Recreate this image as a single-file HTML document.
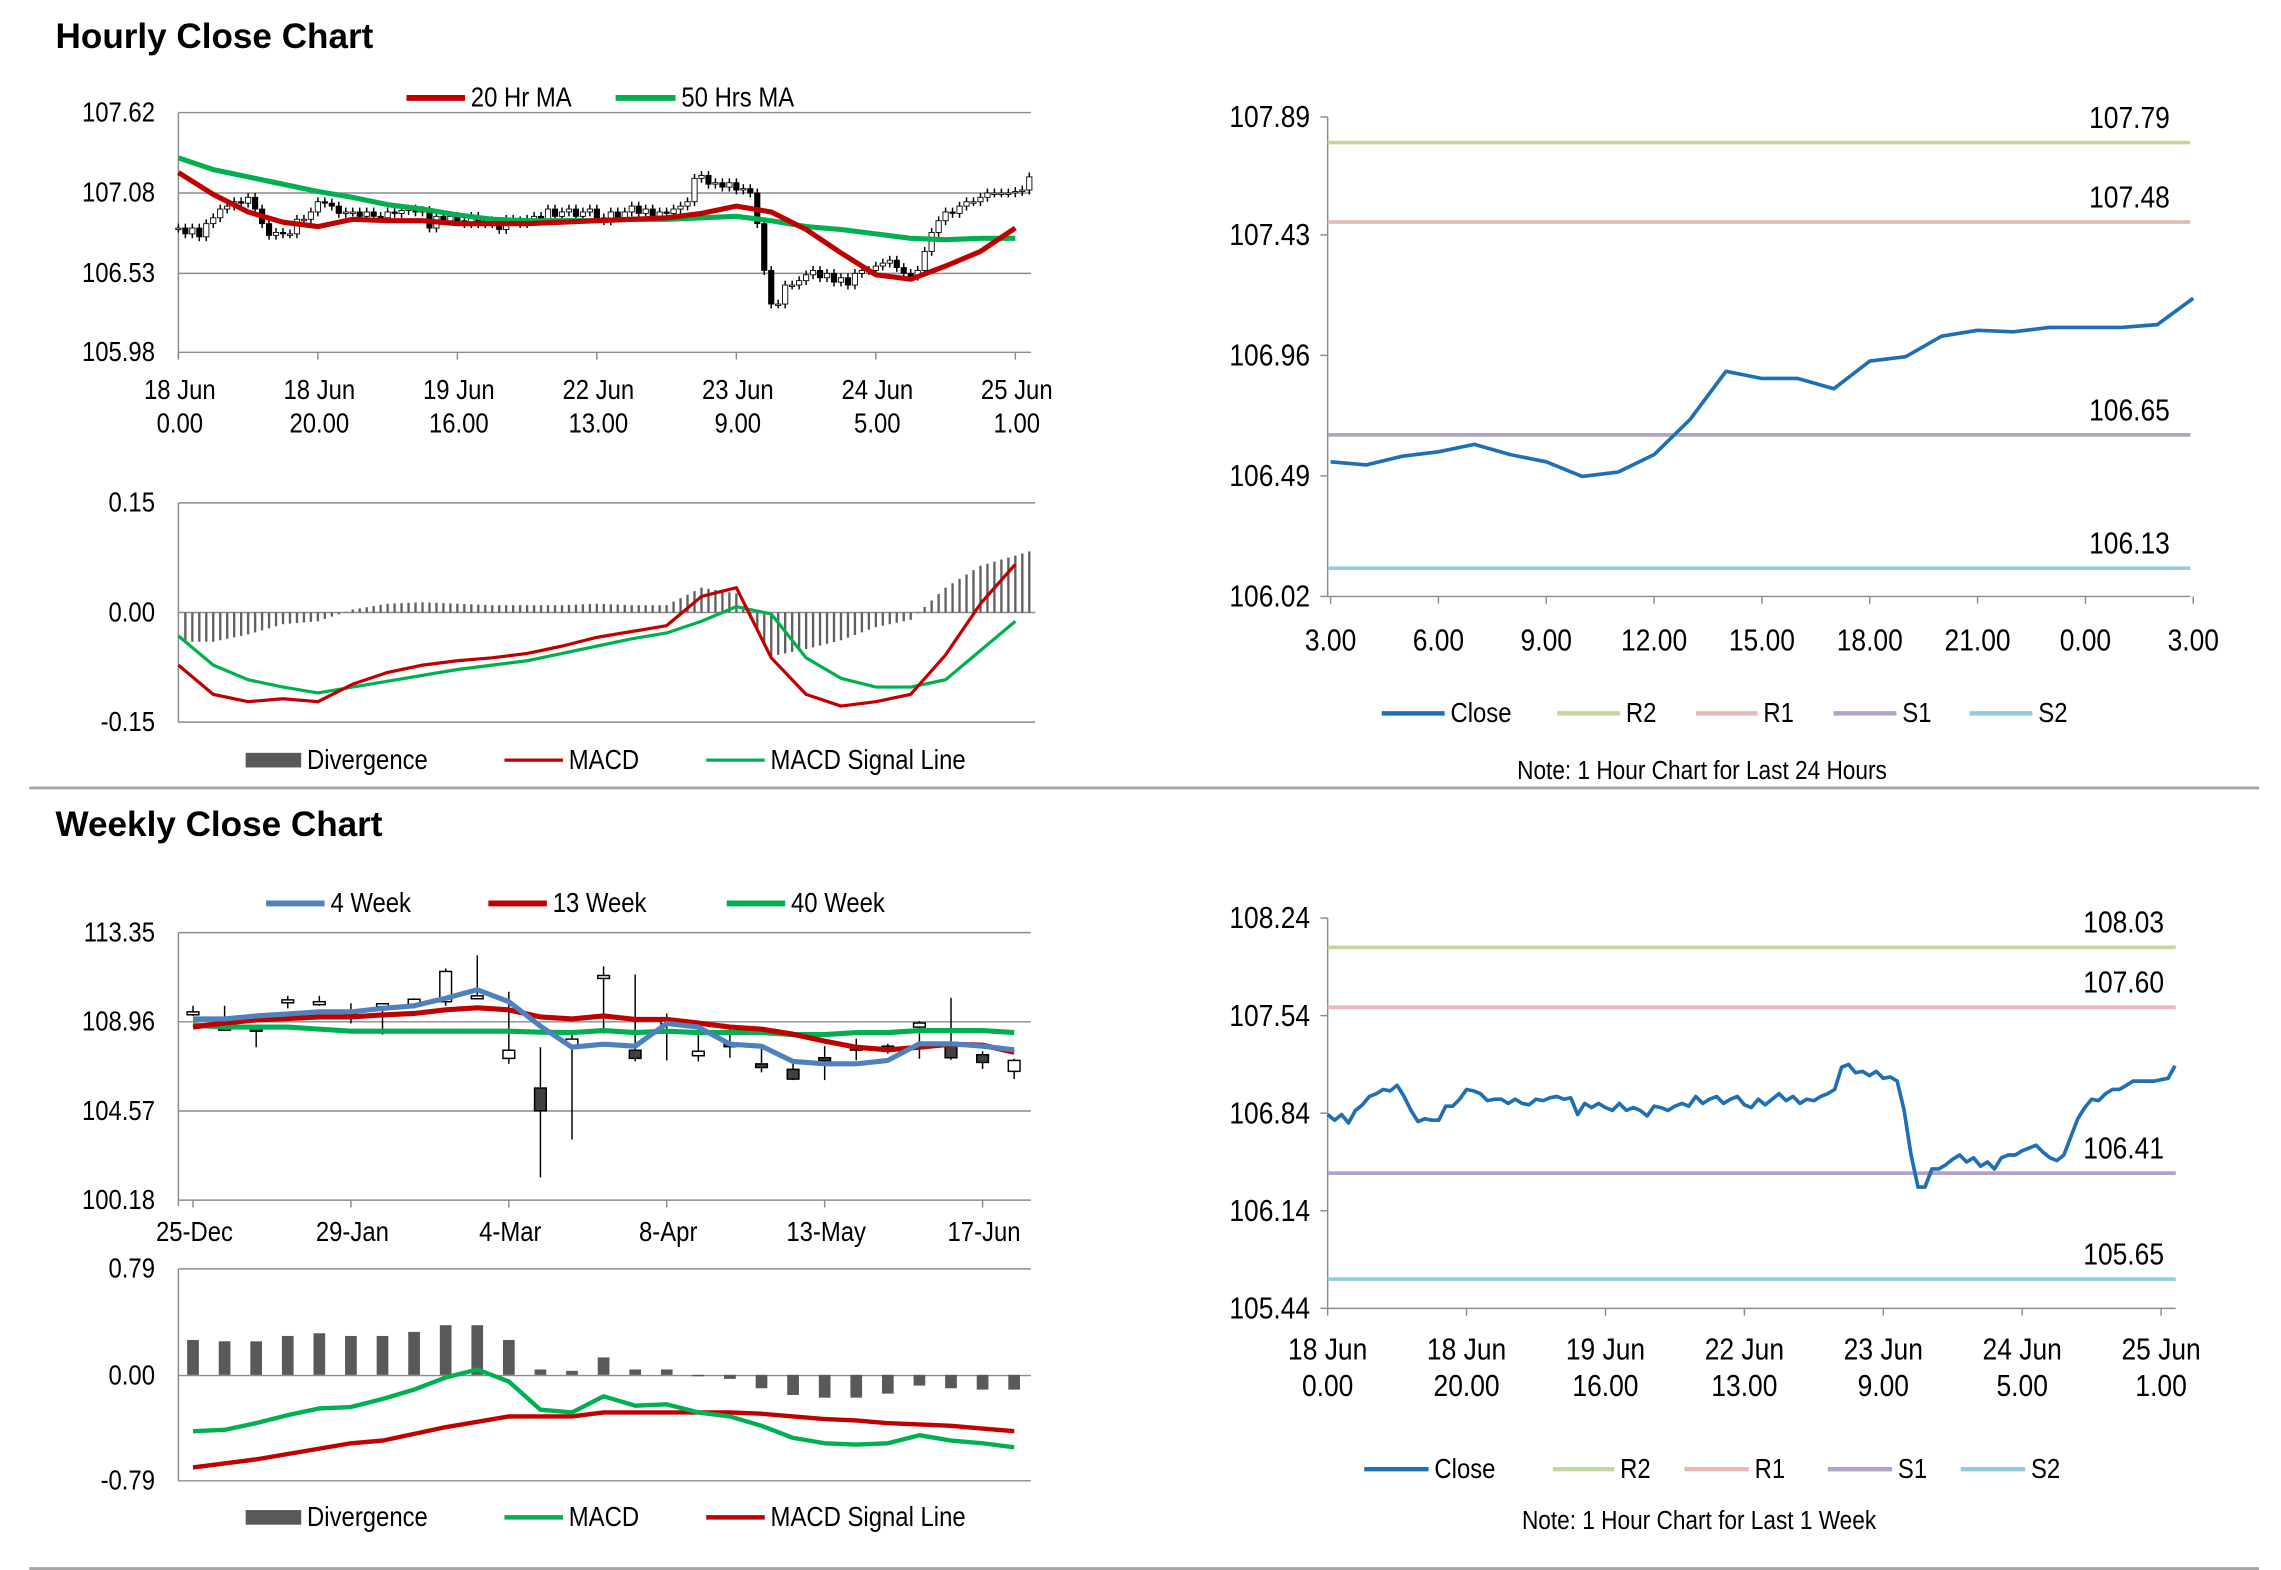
<!DOCTYPE html>
<html><head><meta charset="utf-8"><style>
html,body{margin:0;padding:0;background:#fff;}
svg{display:block;}
text{font-family:"Liberation Sans Narrow","Liberation Sans",sans-serif;fill:#000;}
.title{font-family:"Liberation Sans",sans-serif;font-weight:bold;font-size:24px;}
</style></head><body>
<svg id="root" width="2281" height="1570" viewBox="0 0 1560 1074" preserveAspectRatio="none" xmlns="http://www.w3.org/2000/svg"></svg>
<script>
// ---------- DATA ----------
const hourlyClose = [106.83,106.79,106.83,106.77,106.86,106.90,106.96,106.98,107.01,107.00,107.04,106.96,106.86,106.78,106.80,106.79,106.79,106.89,106.89,106.94,
107.01,107.00,106.98,106.93,106.94,106.94,106.91,106.94,106.91,106.90,106.94,106.93,106.95,106.96,106.94,106.95,106.83,106.91,106.88,106.91,
106.88,106.86,106.91,106.86,106.88,106.86,106.82,106.89,106.88,106.86,106.89,106.91,106.89,106.96,106.91,106.94,106.96,106.91,106.94,106.96,
106.90,106.88,106.94,106.90,106.94,106.98,106.93,106.96,106.91,106.94,106.93,106.96,106.98,107.01,107.17,107.19,107.13,107.14,107.11,107.14,
107.09,107.10,107.07,106.86,106.54,106.31,106.31,106.44,106.44,106.47,106.51,106.54,106.49,106.52,106.46,106.49,106.44,106.52,106.54,106.54,
106.57,106.59,106.61,106.56,106.52,106.50,106.54,106.67,106.80,106.88,106.94,106.93,106.98,107.01,107.01,107.04,107.07,107.07,107.07,107.07,
107.08,107.09,107.18];
const hourlyXLabels1 = ["18 Jun","18 Jun","19 Jun","22 Jun","23 Jun","24 Jun","25 Jun"];
const hourlyXLabels2 = ["0.00","20.00","16.00","13.00","9.00","5.00","1.00"];
const ma20 = [107.21,107.06,106.94,106.87,106.84,106.89,106.88,106.88,106.86,106.86,106.86,106.87,106.88,106.89,106.90,106.93,106.98,106.94,106.82,106.66,106.51,106.48,106.57,106.67,106.83];
const ma50 = [107.31,107.23,107.18,107.13,107.08,107.04,106.99,106.96,106.92,106.89,106.88,106.88,106.88,106.89,106.89,106.90,106.91,106.88,106.84,106.82,106.79,106.76,106.75,106.76,106.76];
const hMacd = [-0.072,-0.112,-0.122,-0.118,-0.122,-0.098,-0.082,-0.072,-0.066,-0.062,-0.056,-0.046,-0.034,-0.026,-0.018,0.022,0.034,-0.062,-0.112,-0.128,-0.122,-0.112,-0.058,0.012,0.066];
const hSignal = [-0.032,-0.072,-0.092,-0.102,-0.110,-0.102,-0.094,-0.086,-0.078,-0.072,-0.066,-0.056,-0.046,-0.036,-0.028,-0.012,0.008,-0.002,-0.062,-0.090,-0.102,-0.102,-0.092,-0.052,-0.012];
const dayClose = [106.545,106.533,106.567,106.584,106.613,106.573,106.545,106.488,106.505,106.573,106.710,106.898,106.870,106.870,106.830,106.938,106.955,107.035,107.058,107.052,107.069,107.069,107.069,107.080,107.183];
const dayXLabels = ["3.00","6.00","9.00","12.00","15.00","18.00","21.00","0.00","3.00"];
const dayLevels = [107.79,107.48,106.65,106.13];
const weekLevels = [108.03,107.60,106.41,105.65];
const wOpen  = [109.35,108.75,108.68,109.95,109.82,109.37,109.82,109.82,109.95,110.14,107.16,105.70,107.81,111.14,107.56,108.88,107.29,107.88,106.89,106.62,107.19,107.71,107.76,108.70,107.88,107.34,106.52];
const wClose = [109.45,108.55,108.50,110.04,109.95,109.50,109.85,110.07,111.44,110.24,107.56,104.58,108.11,111.24,107.16,109.00,107.51,107.76,106.71,106.14,107.09,107.58,107.63,108.90,107.19,106.96,107.06];
const wHigh  = [109.75,109.75,108.80,110.24,110.24,109.87,109.85,110.12,111.59,112.23,110.44,107.71,108.38,111.69,111.29,109.37,109.00,108.75,107.63,106.89,107.76,108.13,107.88,109.00,110.14,107.51,107.14];
const wLow   = [109.25,108.50,107.71,109.62,109.75,108.88,108.33,109.62,109.75,110.12,106.89,101.30,103.16,108.38,107.01,107.06,107.01,107.19,106.47,106.09,106.09,107.06,107.39,107.14,107.09,106.64,106.14];
const ma4w  = [109.10,109.10,109.25,109.35,109.45,109.45,109.62,109.75,110.12,110.54,109.95,108.75,107.71,107.86,107.76,108.88,108.70,107.86,107.76,107.01,106.89,106.89,107.06,107.88,107.88,107.76,107.58];
const ma13w = [108.70,108.90,109.05,109.12,109.20,109.20,109.30,109.37,109.55,109.65,109.55,109.20,109.10,109.25,109.08,109.08,108.90,108.70,108.60,108.35,108.01,107.71,107.58,107.71,107.86,107.81,107.46];
const ma40w = [108.80,108.70,108.70,108.70,108.60,108.50,108.50,108.50,108.50,108.50,108.50,108.45,108.43,108.53,108.43,108.50,108.43,108.43,108.43,108.33,108.33,108.43,108.43,108.53,108.53,108.53,108.43];
const wDiv  = [0.26,0.25,0.25,0.29,0.31,0.29,0.29,0.32,0.37,0.37,0.26,0.04,0.03,0.13,0.04,0.04,-0.01,-0.03,-0.10,-0.15,-0.17,-0.17,-0.14,-0.08,-0.10,-0.11,-0.11];
const wMacd = [-0.42,-0.41,-0.36,-0.30,-0.25,-0.24,-0.18,-0.11,-0.02,0.04,-0.05,-0.26,-0.28,-0.16,-0.23,-0.22,-0.28,-0.31,-0.38,-0.47,-0.51,-0.52,-0.51,-0.45,-0.49,-0.51,-0.54];
const wSignal=[-0.69,-0.66,-0.63,-0.59,-0.55,-0.51,-0.49,-0.44,-0.39,-0.35,-0.31,-0.31,-0.31,-0.28,-0.28,-0.28,-0.28,-0.28,-0.29,-0.31,-0.33,-0.34,-0.36,-0.37,-0.38,-0.40,-0.42];
const weekXLabels = ["25-Dec","29-Jan","4-Mar","8-Apr","13-May","17-Jun"];

// ---------- HELPERS ----------
const NS="http://www.w3.org/2000/svg";
const root=document.getElementById('root');
const SX=0.86;
function mk(tag,attrs,name,parent){
  const el=document.createElementNS(NS,tag);
  for(const k in attrs) el.setAttribute(k,attrs[k]);
  
  
  (parent||root).appendChild(el);
  return el;
}
function txt(x,y,s,name,opt){
  opt=opt||{};
  let el;
  if(opt.cls){
    el=mk('text',{x:x,y:y,'font-size':opt.size||18,'text-anchor':opt.anchor||'start','class':opt.cls},name);
  } else {
    el=mk('text',{x:(x/SX).toFixed(2),y:y,'font-size':(opt.size||18)+1,'text-anchor':opt.anchor||'start',transform:'scale('+SX+',1)'},name);
  }
  el.textContent=s;return el;
}
function ln(x1,y1,x2,y2,stroke,w,name){return mk('line',{x1:x1,y1:y1,x2:x2,y2:y2,stroke:stroke,'stroke-width':w},name);}
function poly(pts,stroke,w,name){return mk('polyline',{points:pts.map(p=>p[0].toFixed(2)+','+p[1].toFixed(2)).join(' '),fill:'none',stroke:stroke,'stroke-width':w,'stroke-linejoin':'round'},name);}
function scale(d0,d1,r0,r1){return v=>r0+(v-d0)/(d1-d0)*(r1-r0);}
const RED='#c00000',GREEN='#00b050',BLUE='#4f81bd',GRID='#8c8c8c',DBLUE='#1f6fb5';
const CR2='#c3d69b',CR1='#e6b9b8',CS1='#b3a2c7',CS2='#93cddd';

ln(20,539,1545,539,'#a6a6a6',2,'section-separator');
ln(20,1073,1545,1073,'#a6a6a6',2,'bottom-separator');
txt(38,33,'Hourly Close Chart','hourly-title',{cls:'title',size:24});
txt(38,572,'Weekly Close Chart','weekly-title',{cls:'title',size:24});

function grid(l,r,ys,labels,lx,name){
  ys.forEach((y,i)=>{ln(l,y,r,y,GRID,1,name+'-gridline');txt(lx,y+6,labels[i],name+'-y-label',{anchor:'end'});});
}
function legendLine(x1,x2,y,color,label,name,w){
  ln(x1,y,x2,y,color,w||4,name+'-swatch');
  txt(x2+4,y+6,label,name,{size:18});
}
function legendBox(x1,x2,y,label,name){
  mk('rect',{x:x1,y:y-5,width:x2-x1,height:10,fill:'#595959'},name+'-swatch');
  txt(x2+4,y+6,label,name,{size:18});
}

// ---------- PANEL 1 ----------
(function(){
  const l=122,r=705,t=77,b=241;
  const y=scale(105.98,107.62,b,t), x=i=>122+i*4.77;
  grid(l,r,[77,132,187,241],['107.62','107.08','106.53','105.98'],106,'hourly-price');
  ln(l,t,l,b+4,GRID,1,'hourly-price-y-axis');
  for(let k=0;k<7;k++){
    const xx=x(k*20);
    ln(xx,b,xx,b+5,GRID,1,'hourly-price-x-tick');
    txt(xx+1,273,hourlyXLabels1[k],'hourly-price-x-label',{anchor:'middle'});
    txt(xx+1,296,hourlyXLabels2[k],'hourly-price-x-label',{anchor:'middle'});
  }
  for(let i=0;i<hourlyClose.length;i++){
    const o=i>0?hourlyClose[i-1]:hourlyClose[0], c=hourlyClose[i];
    const hi=Math.max(o,c)+0.03, lo=Math.min(o,c)-0.03;
    ln(x(i),y(hi),x(i),y(lo),'#000',1,'hourly-candle-wick');
    const top=y(Math.max(o,c)), h=Math.max(1,Math.abs(y(o)-y(c)));
    mk('rect',{x:x(i)-1.8,y:top,width:3.6,height:h,fill:c>=o?'#fff':'#000',stroke:'#000','stroke-width':0.6},'hourly-candle');
  }
  poly(ma50.map((v,k)=>[x(k*5),y(v)]),GREEN,3.5,'ma50-line');
  poly(ma20.map((v,k)=>[x(k*5),y(v)]),RED,3.5,'ma20-line');
  legendLine(278,318,67,RED,'20 Hr MA','legend-20hr-ma');
  legendLine(421,462,67,GREEN,'50 Hrs MA','legend-50hr-ma');
})();

// ---------- PANEL 2 ----------
(function(){
  const l=122,r=708,t=344,b=494;
  const y=scale(-0.15,0.15,b,t), x=i=>122+i*4.77;
  grid(l,r,[344,419,494],['0.15','0.00','-0.15'],106,'hourly-macd');
  ln(l,t,l,b,GRID,1,'hourly-macd-y-axis');
  const interp=(arr,i)=>{const k=Math.min(Math.floor(i/5),arr.length-2);const f=(i-k*5)/5;return arr[k]+(arr[k+1]-arr[k])*Math.min(f,1.6);};
  for(let i=1;i<hourlyClose.length;i++){
    const d=interp(hMacd,i)-interp(hSignal,i);
    ln(x(i),y(0),x(i),y(d),'#606060',1.6,'hourly-divergence-bar');
  }
  poly(hSignal.map((v,k)=>[x(k*5),y(v)]),GREEN,2.2,'hourly-signal-line');
  poly(hMacd.map((v,k)=>[x(k*5),y(v)]),RED,2.2,'hourly-macd-line');
  legendBox(168,206,520,'Divergence','legend-hourly-divergence');
  legendLine(345,385,520,RED,'MACD','legend-hourly-macd',2.2);
  legendLine(483,523,520,GREEN,'MACD Signal Line','legend-hourly-signal',2.2);
})();

function levelChart(cfg){
  const {l,r,t,b,min,max,ticks,levels,data,x,name,labelX}=cfg;
  const y=scale(min,max,b,t);
  ln(l,t,l,b,GRID,1,name+'-y-axis');
  ln(l,b,r,b,GRID,1,name+'-x-axis');
  ticks.forEach(v=>{ln(l-5,y(v),l,y(v),GRID,1,name+'-y-tick');txt(l-12,y(v)+7,v.toFixed(2),name+'-y-label',{anchor:'end',size:20});});
  const cols=[CR2,CR1,CS1,CS2];
  levels.forEach((v,i)=>{ln(l,y(v),r,y(v),cols[i],2.5,name+'-level-'+['r2','r1','s1','s2'][i]);txt(labelX,y(v)-10,v.toFixed(2),name+'-level-label',{anchor:'end',size:20});});
  poly(data.map((v,i)=>[x(i),y(v)]),DBLUE,2.5,name+'-close-line');
  return y;
}
// ---------- PANEL 3 ----------
(function(){
  const x=i=>910+i*(590/24);
  levelChart({l:908,r:1498,t:80,b:408,min:106.02,max:107.89,ticks:[107.89,107.43,106.96,106.49,106.02],levels:dayLevels,data:dayClose,x:x,name:'day-chart',labelX:1484});
  dayXLabels.forEach((s,k)=>{const xx=910+k*73.75;ln(xx,408,xx,413,GRID,1,'day-chart-x-tick');txt(xx,445,s,'day-chart-x-label',{anchor:'middle',size:20});});
  const L=[[945,988,DBLUE,'Close'],[1065,1108,CR2,'R2'],[1160,1202,CR1,'R1'],[1254,1297,CS1,'S1'],[1347,1390,CS2,'S2']];
  L.forEach(a=>legendLine(a[0],a[1],488,a[2],a[3],'legend-day-'+a[3].toLowerCase(),3));
  txt(1164,533,'Note: 1 Hour Chart for Last 24 Hours','day-chart-note',{anchor:'middle',size:17});
})();

// ---------- PANEL 4 ----------
(function(){
  const l=122,r=705,t=638,b=821;
  const y=scale(100.18,113.35,b,t), x=i=>132+i*21.6;
  grid(l,r,[638,699,760,821],['113.35','108.96','104.57','100.18'],106,'weekly-price');
  ln(l,t,l,b+4,GRID,1,'weekly-price-y-axis');
  weekXLabels.forEach((s,k)=>{const xx=x(k*5);ln(xx,b,xx,b+5,GRID,1,'weekly-x-tick');txt(xx+1,849,s,'weekly-x-label',{anchor:'middle'});});
  for(let i=0;i<wOpen.length;i++){
    ln(x(i),y(wHigh[i]),x(i),y(wLow[i]),'#000',1,'weekly-candle-wick');
    const top=y(Math.max(wOpen[i],wClose[i])),h=Math.max(2,Math.abs(y(wOpen[i])-y(wClose[i])));
    mk('rect',{x:x(i)-4,y:top,width:8,height:h,fill:wClose[i]>=wOpen[i]?'#fff':'#404040',stroke:'#000','stroke-width':1},'weekly-candle');
  }
  poly(ma40w.map((v,i)=>[x(i),y(v)]),GREEN,3.5,'ma40w-line');
  poly(ma13w.map((v,i)=>[x(i),y(v)]),RED,3.5,'ma13w-line');
  poly(ma4w.map((v,i)=>[x(i),y(v)]),BLUE,3.5,'ma4w-line');
  legendLine(182,222,618,BLUE,'4 Week','legend-4-week');
  legendLine(334,374,618,RED,'13 Week','legend-13-week');
  legendLine(497,537,618,GREEN,'40 Week','legend-40-week');
})();

// ---------- PANEL 5 ----------
(function(){
  const l=122,r=705,t=868,b=1013;
  const y=scale(-0.79,0.79,b,t), x=i=>132+i*21.6;
  grid(l,r,[868,941,1013],['0.79','0.00','-0.79'],106,'weekly-macd');
  ln(l,t,l,b,GRID,1,'weekly-macd-y-axis');
  wDiv.forEach((v,i)=>{mk('rect',{x:x(i)-4,y:Math.min(y(0),y(v)),width:8,height:Math.max(1,Math.abs(y(v)-y(0))),fill:'#595959'},'weekly-divergence-bar');});
  poly(wSignal.map((v,i)=>[x(i),y(v)]),RED,3,'weekly-signal-line');
  poly(wMacd.map((v,i)=>[x(i),y(v)]),GREEN,3,'weekly-macd-line');
  legendBox(168,206,1038,'Divergence','legend-weekly-divergence');
  legendLine(345,385,1038,GREEN,'MACD','legend-weekly-macd',3);
  legendLine(483,523,1038,RED,'MACD Signal Line','legend-weekly-signal',3);
})();

// ---------- PANEL 6 ----------
(function(){
  const x=i=>908+i*4.75;
  levelChart({l:908,r:1488,t:628,b:895,min:105.44,max:108.24,ticks:[108.24,107.54,106.84,106.14,105.44],levels:weekLevels,data:hourlyClose,x:x,name:'week-chart',labelX:1480});
  for(let k=0;k<7;k++){const xx=x(k*20);ln(xx,895,xx,900,GRID,1,'week-chart-x-tick');txt(xx,930,hourlyXLabels1[k],'week-chart-x-label',{anchor:'middle',size:20});txt(xx,955,hourlyXLabels2[k],'week-chart-x-label',{anchor:'middle',size:20});}
  const L=[[933,977,DBLUE,'Close'],[1062,1104,CR2,'R2'],[1152,1196,CR1,'R1'],[1250,1294,CS1,'S1'],[1341,1385,CS2,'S2']];
  L.forEach(a=>legendLine(a[0],a[1],1005,a[2],a[3],'legend-week-'+a[3].toLowerCase(),3));
  txt(1162,1046,'Note: 1 Hour Chart for Last 1 Week','week-chart-note',{anchor:'middle',size:17});
})();
</script>
</body></html>
